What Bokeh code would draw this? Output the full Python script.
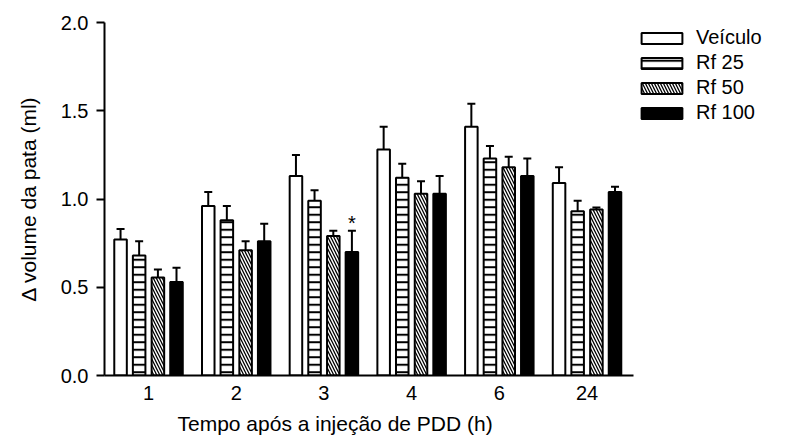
import numpy as np
from bokeh.plotting import figure
from bokeh.models import (ColumnDataSource, Range1d, FixedTicker, Whisker, TeeHead,
                          Legend, LegendItem, Title, PrintfTickFormatter)
from bokeh.core.properties import value
from bokeh.embed import file_html
from bokeh.resources import INLINE

# ---- data ----
times = ["1", "2", "3", "4", "6", "24"]
series = ["Veículo", "Rf 25", "Rf 50", "Rf 100"]
veiculo = [0.77, 0.96, 1.13, 1.28, 1.41, 1.09]
rf25 = [0.68, 0.88, 0.99, 1.12, 1.23, 0.93]
rf50 = [0.555, 0.71, 0.79, 1.03, 1.18, 0.94]
rf100 = [0.53, 0.76, 0.70, 1.03, 1.13, 1.04]
veiculo_sem = [0.06, 0.08, 0.12, 0.13, 0.13, 0.09]
rf25_sem = [0.08, 0.08, 0.06, 0.08, 0.07, 0.06]
rf50_sem = [0.045, 0.05, 0.03, 0.07, 0.06, 0.012]
rf100_sem = [0.08, 0.10, 0.12, 0.10, 0.10, 0.03]
y_ticks = [0.0, 0.5, 1.0, 1.5, 2.0]
signif_group = 2      # "3" h
signif_series = 3     # Rf 100

means = [veiculo, rf25, rf50, rf100]
sems = [veiculo_sem, rf25_sem, rf50_sem, rf100_sem]

FONT = "Liberation Sans"
X_START, X_AXIS_END, X_END = -0.502, 5.53, 7.206

p = figure(width=780, height=444, output_backend="svg", toolbar_location=None,
           x_range=Range1d(X_START, X_END), y_range=Range1d(0, 2.0),
           min_border_left=104, min_border_right=0, min_border_top=22,
           min_border_bottom=69)
p.outline_line_color = None
p.grid.visible = False
p.background_fill_color = "white"
p.border_fill_color = "white"

offsets = [-0.319, -0.107, 0.107, 0.319]
bar_w = 0.143
styles = [
    dict(fill_color="white"),
    dict(fill_color="white", hatch_pattern="horizontal_line", hatch_color="black",
         hatch_scale=7.5, hatch_weight=2),
    dict(fill_color="white", hatch_pattern="left_diagonal_line", hatch_color="black",
         hatch_scale=6, hatch_weight=1.3),
    dict(fill_color="black"),
]

gx = np.arange(len(times))
renderers = []
for k in range(4):
    x = gx + offsets[k]
    top = np.array(means[k])
    upper = top + np.array(sems[k])
    src = ColumnDataSource(dict(x=x, top=top, upper=upper))
    r = p.vbar(x="x", top="top", width=bar_w, bottom=0, source=src,
               line_color="black", line_width=2, **styles[k])
    renderers.append(r)
    w = Whisker(base="x", lower="top", upper="upper", source=src, dimension="height",
                line_color="black", line_width=2,
                upper_head=TeeHead(size=8, line_color="black", line_width=2),
                lower_head=None)
    p.add_layout(w)

# significance marker
sx = gx[signif_group] + offsets[signif_series]
sy = means[signif_series][signif_group] + sems[signif_series][signif_group]
p.text(x=[sx], y=[sy], text=["*"], text_align="center", text_baseline="bottom",
       y_offset=3, text_font=value(FONT), text_font_size="20px", text_color="black")

# axes
xa = p.xaxis[0]
xa.bounds = (X_START, X_AXIS_END)
xa.ticker = FixedTicker(ticks=list(gx))
xa.major_label_overrides = {int(i): t for i, t in zip(gx, times)}
xa.major_tick_out = 0
xa.major_tick_in = 0
xa.minor_tick_out = 0
xa.minor_tick_in = 0
xa.axis_line_width = 2
xa.major_label_text_font = FONT
xa.major_label_text_font_size = "20px"
xa.major_label_text_color = "black"
xa.major_label_standoff = 10

ya = p.yaxis[0]
ya.ticker = FixedTicker(ticks=y_ticks)
ya.formatter = PrintfTickFormatter(format="%.1f")
ya.major_tick_out = 8
ya.major_tick_in = 0
ya.major_tick_line_width = 2
ya.minor_tick_out = 0
ya.minor_tick_in = 0
ya.axis_line_width = 2
ya.major_label_text_font = FONT
ya.major_label_text_font_size = "20px"
ya.major_label_text_color = "black"
ya.major_label_standoff = 8
ya.axis_label = "Δ volume da pata (ml)"
ya.axis_label_text_font = FONT
ya.axis_label_text_font_size = "21px"
ya.axis_label_text_font_style = "normal"
ya.axis_label_text_color = "black"
ya.axis_label_standoff = 18

p.add_layout(Title(text="Tempo após  a injeção de PDD (h)", align="left", offset=73,
                   text_font=FONT, text_font_size="21px", text_font_style="normal",
                   text_color="black", standoff=14), "below")

legend = Legend(items=[LegendItem(label=s, renderers=[r]) for s, r in zip(series, renderers)],
                location=(532, 251), glyph_width=51, glyph_height=14, label_height=22,
                spacing=2, padding=0, margin=0, label_standoff=9,
                label_text_font=FONT, label_text_font_size="20px",
                label_text_color="black", border_line_alpha=0, background_fill_alpha=0)
p.add_layout(legend, "center")

open("out.html", "w").write(file_html(p, INLINE))
